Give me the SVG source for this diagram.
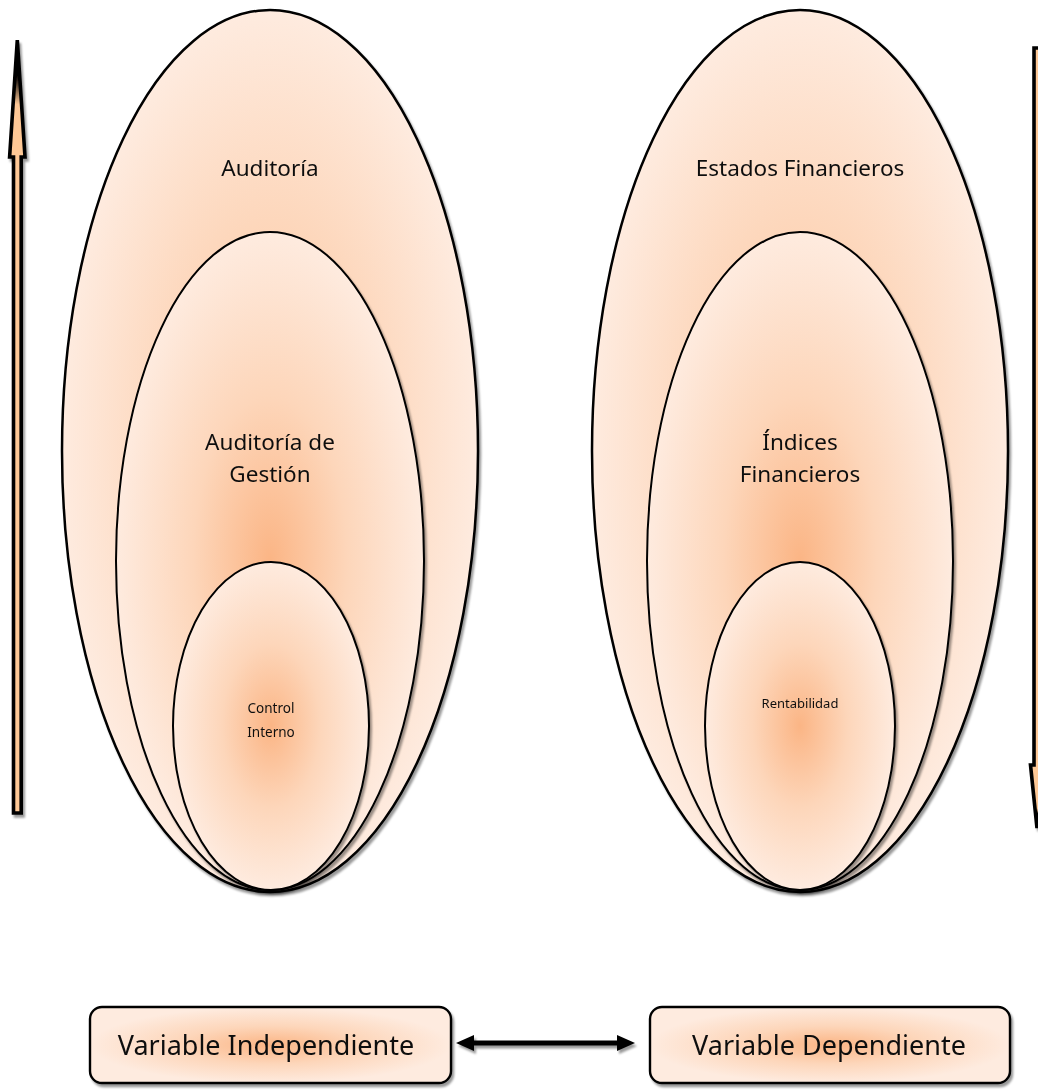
<svg xmlns="http://www.w3.org/2000/svg" width="1038" height="1090" viewBox="0 0 1038 1090">
  <defs>
    <radialGradient id="peach" cx="0.5" cy="0.5" r="0.5">
      <stop offset="0" stop-color="#FBB585"/>
      <stop offset="0.5" stop-color="#FDD6BA"/>
      <stop offset="1" stop-color="#FEEBDF"/>
    </radialGradient>
    <linearGradient id="upHead" gradientUnits="userSpaceOnUse" x1="0" y1="40" x2="0" y2="157">
      <stop offset="0" stop-color="#000"/>
      <stop offset="0.3" stop-color="#000"/>
      <stop offset="0.55" stop-color="#FEC896"/>
      <stop offset="1" stop-color="#FEC896"/>
    </linearGradient>
    <filter id="shadow" x="-10%" y="-10%" width="120%" height="120%">
      <feDropShadow dx="2" dy="3" stdDeviation="1.2" flood-color="#000" flood-opacity="0.4"/>
    </filter>
  </defs>
  <style>
    .shape { fill: url(#peach); stroke: #000; stroke-width: 2; }
    .outer { stroke-width: 2.5; }
    .boxframe { stroke-width: 2.4; }
    .label { font-family: "Noto Sans", "Open Sans", sans-serif; fill: #111; text-anchor: middle; }
    .big { font-size: 22.5px; }
    .box { font-size: 27px; }
    .arrow { fill: #FEC896; stroke: #000; stroke-width: 3.6; stroke-linejoin: miter; }
    .up { fill: url(#upHead); }
  </style>

  <rect width="1038" height="1090" fill="#fff"/>

  <!-- Left nested ellipses -->
  <g id="auditoria" filter="url(#shadow)">
    <ellipse class="shape outer" cx="270" cy="451" rx="208" ry="441"/>
    <text class="label big" x="270" y="176">Auditoría</text>
  </g>
  <g id="auditoria-gestion" filter="url(#shadow)">
    <ellipse class="shape" cx="270" cy="561" rx="154" ry="329"/>
    <text class="label big" x="270" y="450">Auditoría de</text>
    <text class="label big" x="270" y="482">Gestión</text>
  </g>
  <g id="control-interno" filter="url(#shadow)">
    <ellipse class="shape" cx="271" cy="726" rx="98" ry="164"/>
    <text class="label" font-size="13.5" x="271" y="713">Control</text>
    <text class="label" font-size="13.5" x="271" y="737">Interno</text>
  </g>

  <!-- Right nested ellipses -->
  <g id="estados-financieros" filter="url(#shadow)">
    <ellipse class="shape outer" cx="800" cy="451" rx="208" ry="441"/>
    <text class="label big" x="800" y="176">Estados Financieros</text>
  </g>
  <g id="indices-financieros" filter="url(#shadow)">
    <ellipse class="shape" cx="800" cy="561" rx="153" ry="329"/>
    <text class="label big" x="800" y="450">Índices</text>
    <text class="label big" x="800" y="482">Financieros</text>
  </g>
  <g id="rentabilidad" filter="url(#shadow)">
    <ellipse class="shape" cx="800" cy="726" rx="95" ry="164"/>
    <text class="label" font-size="13" x="800" y="708">Rentabilidad</text>
  </g>

  <!-- Bottom variable boxes -->
  <g id="variable-independiente" filter="url(#shadow)">
    <rect class="shape boxframe" x="90" y="1007" width="361" height="76" rx="12" ry="12"/>
    <text class="label box" x="266" y="1055">Variable Independiente</text>
  </g>
  <g id="variable-dependiente" filter="url(#shadow)">
    <rect class="shape boxframe" x="650" y="1007" width="360" height="76" rx="12" ry="12"/>
    <text class="label box" x="829" y="1055">Variable Dependiente</text>
  </g>

  <!-- Connectors -->
  <g id="connectors" filter="url(#shadow)">
    <polygon class="arrow up" points="17.3,40 25,157 21.2,157 21.2,813 13.5,813 13.5,157 9.6,157"/>
    <polygon class="arrow" points="1034,48 1044,48 1044,765 1046,765 1037,828 1030.5,765 1034,765"/>
    <polygon fill="#000" points="456,1043 474,1035 474,1040.5 617,1040.5 617,1035 635,1043 617,1051 617,1045.5 474,1045.5 474,1051"/>
  </g>
</svg>
